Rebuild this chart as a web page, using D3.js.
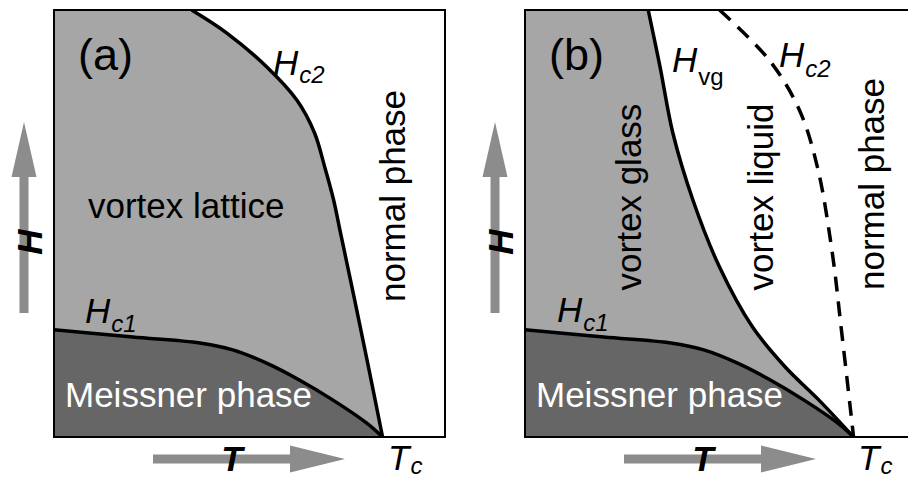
<!DOCTYPE html>
<html><head><meta charset="utf-8">
<script src="https://cdn.jsdelivr.net/npm/d3@7"></script>
<style>
body{margin:0;background:#fff}
svg{display:block}
text{font-family:"Liberation Sans",Arial,Helvetica,sans-serif}
</style>
</head><body>
<svg id="c" width="908" height="478"></svg>
<script>
// ---- data (T in units of Tc, H normalised to panel top) ----
const hc1T = [0, 0.24, 0.444, 0.544, 0.647, 0.748, 0.848, 0.951, 1];
const hc1H = [0.251, 0.234, 0.220, 0.204, 0.173, 0.133, 0.087, 0.033, 0];
const hc2aT = [0.419, 0.526, 0.647, 0.739, 0.793, 0.824, 0.851, 0.872, 0.894, 0.915, 0.957, 1];
const hc2aH = [1.0, 0.946, 0.867, 0.789, 0.712, 0.632, 0.555, 0.478, 0.398, 0.321, 0.164, 0];
const hvgT = [0.375, 0.411, 0.450, 0.511, 0.592, 0.692, 0.792, 0.894, 1];
const hvgH = [1.0, 0.867, 0.712, 0.555, 0.398, 0.258, 0.164, 0.087, 0];
const hc2bT = [0.592, 0.743, 0.835, 0.890, 0.934, 0.964, 1];
const hc2bH = [1.0, 0.883, 0.766, 0.632, 0.438, 0.244, 0];
const panelLabels = ["(a)", "(b)"];

const svg = d3.select("#c");
const FONT = 35;
const dark = "#666666", light = "#a6a6a6", arrowCol = "#8c8c8c";
const LW = 3.5;
const zip = (a, b) => a.map((v, i) => [v, b[i]]);

function panel(id, left) {
  const x = d3.scaleLinear().domain([0, 1.19]).range([left, left + 391]);
  const y = d3.scaleLinear().domain([0, 1]).range([437, 10]);
  const line = d3.line().x(d => x(d[0])).y(d => y(d[1])).curve(d3.curveCatmullRom.alpha(0.5));
  const g = svg.append("g");
  const clipId = "clip" + id;
  svg.append("defs").append("clipPath").attr("id", clipId)
    .append("rect").attr("x", x(0)).attr("y", y(1)).attr("width", x(1.19) - x(0)).attr("height", y(0) - y(1));
  const body = g.append("g").attr("clip-path", `url(#${clipId})`);
  return {x, y, line, g, body};
}

function fillUnder(p, pts, top, color) {
  let d = `M${p.x(0)},${p.y(0)} L${p.x(0)},${p.y(top ? 1 : pts[0][1])} L` + p.line(pts).slice(1) + "Z";
  p.body.append("path").attr("d", d).attr("fill", color);
}

function curve(p, pts, dash) {
  const path = p.body.append("path").attr("d", p.line(pts)).attr("fill", "none")
    .attr("stroke", "#000").attr("stroke-width", LW);
  if (dash) path.attr("stroke-dasharray", dash);
}

function arrows(p) {
  const L = p.x(0);
  const g = p.g.append("g").attr("fill", arrowCol);
  const vx = L - 30;
  g.append("rect").attr("x", vx - 4.5).attr("y", 176).attr("width", 9).attr("height", 313 - 176);
  g.append("path").attr("d", `M${vx},122 L${vx + 12.5},177 L${vx - 12.5},177Z`);
  const hx0 = L + 99, hx1 = L + 236, hx2 = L + 291;
  g.append("rect").attr("x", hx0).attr("y", 459 - 4.5).attr("width", hx1 - hx0 + 1).attr("height", 9);
  g.append("path").attr("d", `M${hx2},459 L${hx1},445.5 L${hx1},472.5Z`);
  p.g.append("text").attr("transform", `translate(${L - 12},242) rotate(-90)`)
    .attr("text-anchor", "middle").attr("font-size", FONT).attr("font-weight", "bold")
    .attr("font-style", "italic").text("H");
  p.g.append("text").attr("x", L + 178).attr("y", 471)
    .attr("text-anchor", "middle").attr("font-size", FONT).attr("font-weight", "bold")
    .attr("font-style", "italic").text("T");
}

function label(g, x, y, main, sub, subItalic, subDy) {
  const t = g.append("text").attr("x", x).attr("y", y).attr("font-size", FONT);
  t.append("tspan").attr("font-style", "italic").text(main);
  t.append("tspan").attr("font-size", 24).attr("dy", subDy).attr("dx", 1)
    .attr("font-style", subItalic ? "italic" : "normal").text(sub);
}

function vtext(g, x, y, s, col) {
  g.append("text").attr("transform", `translate(${x},${y}) rotate(-90)`)
    .attr("text-anchor", "middle").attr("font-size", FONT).attr("fill", col || "#000").text(s);
}

// ---------- panel (a) ----------
const A = panel("a", 54);
fillUnder(A, zip(hc2aT, hc2aH), true, light);
fillUnder(A, zip(hc1T, hc1H), false, dark);
curve(A, zip(hc2aT, hc2aH));
curve(A, zip(hc1T, hc1H));
A.g.append("rect").attr("x", A.x(0)).attr("y", A.y(1)).attr("width", A.x(1.19) - A.x(0)).attr("height", A.y(0) - A.y(1))
  .attr("fill", "none").attr("stroke", "#000").attr("stroke-width", 2);
A.g.append("text").attr("x", 78).attr("y", 70).attr("font-size", 45).text(panelLabels[0]);
A.g.append("text").attr("x", 88).attr("y", 218).attr("font-size", FONT).text("vortex lattice");
A.g.append("text").attr("x", 65).attr("y", 407).attr("font-size", FONT).attr("fill", "#fff").text("Meissner phase");
vtext(A.g, 405, 196, "normal phase");
label(A.g, 273, 75, "H", "c2", true, 8);
label(A.g, 85, 323, "H", "c1", true, 9);
label(A.g, 388, 470, "T", "c", true, 4);
arrows(A);

// ---------- panel (b) ----------
const B = panel("b", 525);
fillUnder(B, zip(hvgT, hvgH), true, light);
fillUnder(B, zip(hc1T, hc1H), false, dark);
curve(B, zip(hvgT, hvgH));
curve(B, zip(hc1T, hc1H));
curve(B, zip(hc2bT, hc2bH), "15,10");
B.g.append("rect").attr("x", B.x(0)).attr("y", B.y(1)).attr("width", B.x(1.19) - B.x(0)).attr("height", B.y(0) - B.y(1))
  .attr("fill", "none").attr("stroke", "#000").attr("stroke-width", 2);
B.g.append("text").attr("x", 549).attr("y", 70).attr("font-size", 45).text(panelLabels[1]);
B.g.append("text").attr("x", 536).attr("y", 407).attr("font-size", FONT).attr("fill", "#fff").text("Meissner phase");
vtext(B.g, 641, 197, "vortex glass");
vtext(B.g, 773, 197, "vortex liquid");
vtext(B.g, 884, 184, "normal phase");
label(B.g, 672, 72, "H", "vg", false, 13);
label(B.g, 779, 67, "H", "c2", true, 10);
label(B.g, 557, 322, "H", "c1", true, 9);
label(B.g, 858, 470, "T", "c", true, 4);
arrows(B);
</script>
</body></html>
